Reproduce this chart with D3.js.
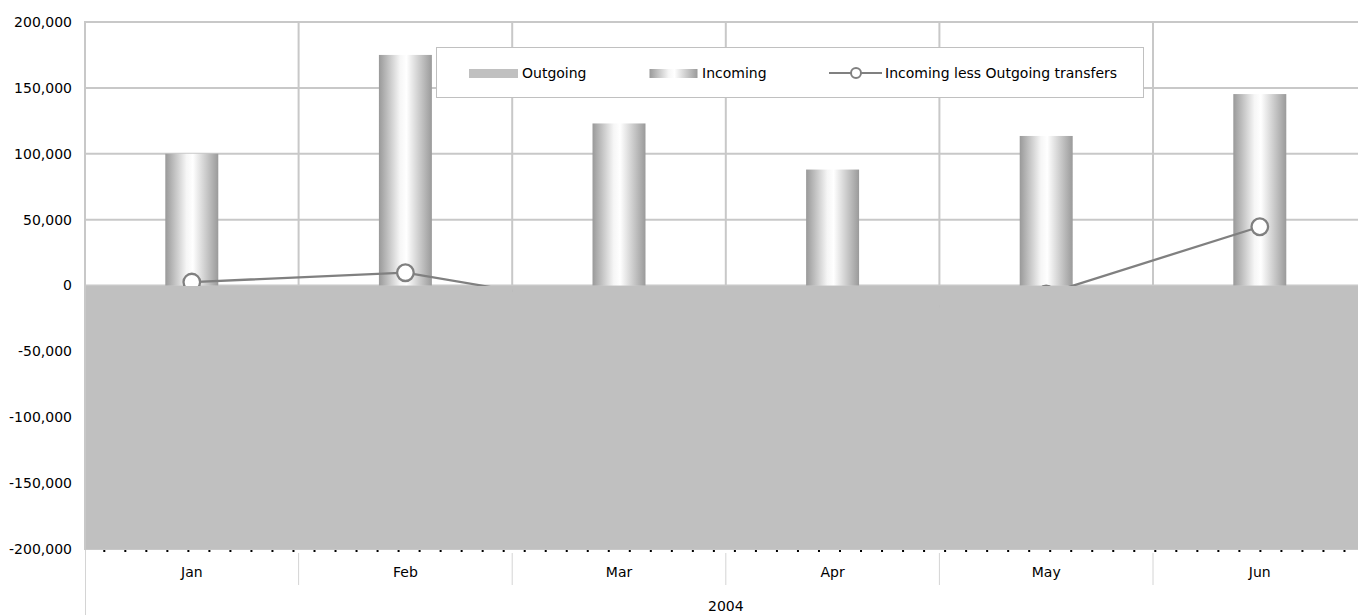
<!DOCTYPE html>
<html>
<head>
<meta charset="utf-8">
<script src="https://cdn.jsdelivr.net/npm/d3@7"></script>
<style>
  html, body { margin: 0; padding: 0; background: #fff; overflow: hidden; }
  svg { display: block; font-family: "DejaVu Sans", Verdana, sans-serif; }
</style>
</head>
<body>
<svg id="chart" width="1358" height="615"></svg>
<script>
// ---- data ----
const categories = ["Jan", "Feb", "Mar", "Apr", "May", "Jun"];
const groupLabel = "2004";
const incoming = [100000, 175000, 123000, 88000, 113500, 145300];
// Outgoing bars run past the bottom of the value axis (clipped at -200,000)
const outgoing = [-200000, -200000, -200000, -200000, -200000, -200000];
const net = [2600, 9700, -17600, -25000, -6500, 44600];
const yTicks = [-200000, -150000, -100000, -50000, 0, 50000, 100000, 150000, 200000];
const seriesNames = ["Outgoing", "Incoming", "Incoming less Outgoing transfers"];

// ---- layout ----
const svg = d3.select("#chart");
const pLeft = 85, pRight = 1366.6, pTop = 22, pBottom = 549;
const x = d3.scaleBand().domain(categories).range([pLeft, pRight]).padding(0);
const y = d3.scaleLinear().domain([-200000, 200000]).range([pBottom, pTop]);
const gridColor = "#c8c8c8";
const locale = d3.formatLocale({ decimal: ".", thousands: ",", grouping: [3], currency: ["$", ""], minus: "-" });

const defs = svg.append("defs");
const grad = defs.append("linearGradient").attr("id", "cyl").attr("x1", 0).attr("x2", 1).attr("y1", 0).attr("y2", 0);
grad.append("stop").attr("offset", "0%").attr("stop-color", "#999999");
grad.append("stop").attr("offset", "40%").attr("stop-color", "#f6f6f6");
grad.append("stop").attr("offset", "52%").attr("stop-color", "#ffffff");
grad.append("stop").attr("offset", "100%").attr("stop-color", "#9a9a9a");

// horizontal gridlines
svg.append("g").selectAll("line").data(yTicks).join("line")
  .attr("x1", pLeft).attr("x2", pRight)
  .attr("y1", d => y(d)).attr("y2", d => y(d))
  .attr("stroke", gridColor).attr("stroke-width", 2);

// vertical gridlines at category boundaries
svg.append("g").selectAll("line").data(categories).join("line")
  .attr("x1", d => x(d) + x.bandwidth())
  .attr("x2", d => x(d) + x.bandwidth())
  .attr("y1", pTop).attr("y2", pBottom)
  .attr("stroke", gridColor).attr("stroke-width", 2);

// Incoming bars (cylinder gradient)
const bw = x.bandwidth() * 0.248;
svg.append("g").selectAll("rect").data(incoming).join("rect")
  .attr("x", (d, i) => x(categories[i]) + x.bandwidth() / 2 - bw / 2)
  .attr("width", bw)
  .attr("y", d => y(d))
  .attr("height", d => y(0) - y(d))
  .attr("fill", "url(#cyl)");

// net line
const line = d3.line().x((d, i) => x(categories[i]) + x.bandwidth() / 2).y(d => y(d));
svg.append("path").datum(net).attr("d", line)
  .attr("fill", "none").attr("stroke", "#808080").attr("stroke-width", 2.3);
svg.append("g").selectAll("circle").data(net).join("circle")
  .attr("cx", (d, i) => x(categories[i]) + x.bandwidth() / 2)
  .attr("cy", d => y(d)).attr("r", 8.3)
  .attr("fill", "#fff").attr("stroke", "#808080").attr("stroke-width", 2.3);

// Outgoing bars (no gap)
svg.append("g").selectAll("rect").data(outgoing).join("rect")
  .attr("x", (d, i) => x(categories[i]))
  .attr("width", x.bandwidth() + 0.5)
  .attr("y", y(0) + 0.5)
  .attr("height", d => y(d) - y(0) - 0.5)
  .attr("fill", "#c0c0c0");

// left axis line
svg.append("line").attr("x1", pLeft).attr("x2", pLeft).attr("y1", pTop - 1).attr("y2", pBottom + 1)
  .attr("stroke", gridColor).attr("stroke-width", 2);
svg.append("line").attr("x1", pLeft + 0.5).attr("x2", pLeft + 0.5).attr("y1", pBottom + 1).attr("y2", 615)
  .attr("stroke", "#d4d4d4").attr("stroke-width", 1);

// dotted category axis line
svg.append("line").attr("x1", pLeft + 1).attr("x2", pRight).attr("y1", pBottom + 2).attr("y2", pBottom + 2)
  .attr("stroke", "#000").attr("stroke-width", 2)
  .attr("stroke-dasharray", "2,19.02").attr("stroke-dashoffset", -(103.3 - (pLeft + 1)) + 21.02);

// y axis labels
const yAxis = d3.axisLeft(y).tickValues(yTicks).tickFormat(locale.format(",")).tickSize(0).tickPadding(13);
const ya = svg.append("g").attr("transform", `translate(${pLeft},0)`).call(yAxis);
ya.select(".domain").remove();
ya.selectAll("text").attr("font-size", 14).attr("font-family", "DejaVu Sans").attr("fill", "#000");

// category separators
svg.append("g").selectAll("line").data(categories.slice(1)).join("line")
  .attr("x1", d => x(d)).attr("x2", d => x(d))
  .attr("y1", 553).attr("y2", 585)
  .attr("stroke", "#d4d4d4").attr("stroke-width", 1);

// category labels
const xAxis = d3.axisBottom(x).tickSize(0).tickPadding(0);
const xa = svg.append("g").attr("transform", `translate(0,567)`).call(xAxis);
xa.select(".domain").remove();
xa.selectAll("text").attr("font-size", 14).attr("font-family", "DejaVu Sans").attr("fill", "#000");

svg.append("text").attr("x", (pLeft + pRight) / 2).attr("y", 611)
  .attr("text-anchor", "middle").attr("font-size", 14).attr("fill", "#000").text(groupLabel);

// legend
const lg = svg.append("g");
lg.append("rect").attr("x", 436.5).attr("y", 47.5).attr("width", 707).attr("height", 50)
  .attr("fill", "#fff").attr("stroke", "#c0c0c0").attr("stroke-width", 1);
lg.append("rect").attr("x", 469).attr("y", 69).attr("width", 49).attr("height", 9).attr("fill", "#c0c0c0");
lg.append("text").attr("x", 522).attr("y", 78).attr("font-size", 14).attr("fill", "#000").text(seriesNames[0]);
lg.append("rect").attr("x", 649.5).attr("y", 69).attr("width", 48).attr("height", 9).attr("fill", "url(#cyl)");
lg.append("text").attr("x", 702).attr("y", 78).attr("font-size", 14).attr("fill", "#000").text(seriesNames[1]);
lg.append("line").attr("x1", 829).attr("x2", 882).attr("y1", 73).attr("y2", 73)
  .attr("stroke", "#808080").attr("stroke-width", 2);
lg.append("circle").attr("cx", 856).attr("cy", 73).attr("r", 5)
  .attr("fill", "#fff").attr("stroke", "#808080").attr("stroke-width", 2);
lg.append("text").attr("x", 885).attr("y", 78).attr("font-size", 14).attr("fill", "#000").text(seriesNames[2]);
</script>
</body>
</html>
